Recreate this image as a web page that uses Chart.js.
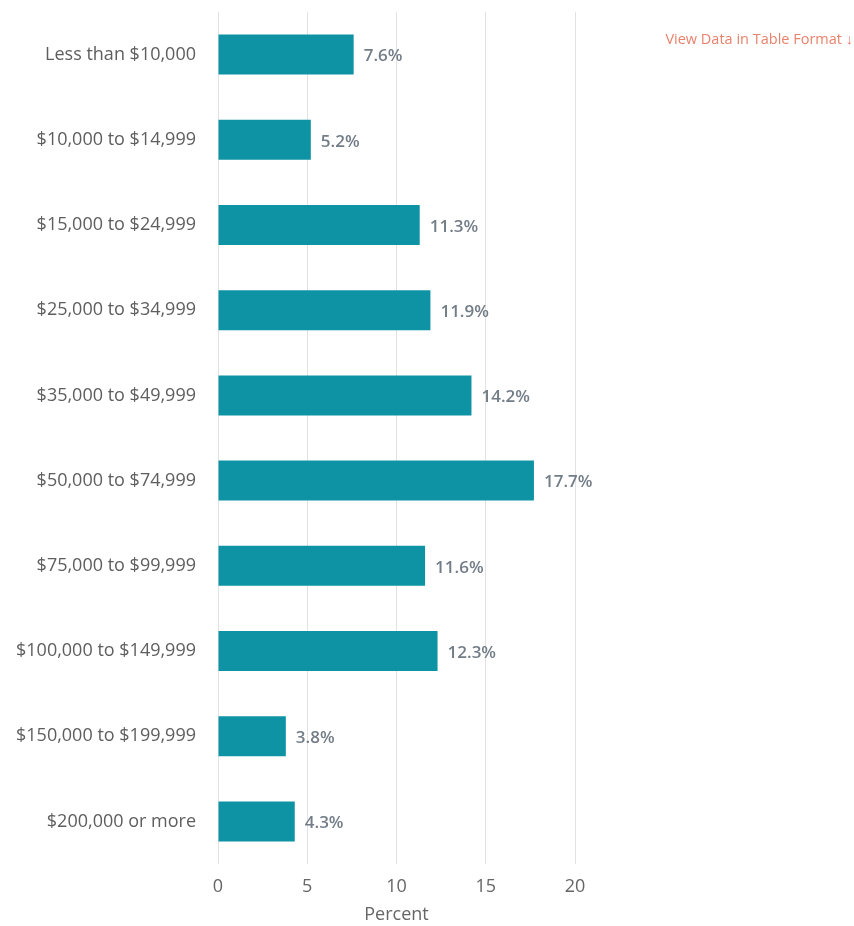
<!DOCTYPE html>
<html>
<head>
<meta charset="utf-8">
<title>Household Income</title>
<script src="https://cdn.jsdelivr.net/npm/chart.js@4.4.1/dist/chart.umd.min.js"></script>
<style>
  html, body { margin: 0; padding: 0; background: #fff; }
  #wrap { position: relative; width: 854px; height: 926px; }
  #incomeChart { display: block; }
  #tableLink {
    position: absolute; top: 29px; right: 1px;
    font: 14.5px "Open Sans", sans-serif; color: #e8826b;
    text-decoration: none;
  }
</style>
</head>
<body>
<div id="wrap">
  <canvas id="incomeChart" width="854" height="926"></canvas>
  <a id="tableLink" href="#">View Data in Table Format &#8595;</a>
</div>
<script>
// income brackets and share of households (percent)
const categories = [
  'Less than $10,000', '$10,000 to $14,999', '$15,000 to $24,999',
  '$25,000 to $34,999', '$35,000 to $49,999', '$50,000 to $74,999',
  '$75,000 to $99,999', '$100,000 to $149,999', '$150,000 to $199,999',
  '$200,000 or more'
];
const percents = [7.6, 5.2, 11.3, 11.9, 14.2, 17.7, 11.6, 12.3, 3.8, 4.3];
const xTicks = [0, 5, 10, 15, 20];

const FONT = '"Open Sans", sans-serif';

// value label drawn just right of each bar
const barLabels = {
  id: 'barLabels',
  afterDatasetsDraw(chart) {
    const c = chart.ctx;
    const meta = chart.getDatasetMeta(0);
    c.save();
    c.font = '600 17px ' + FONT;
    c.fillStyle = '#737d88';
    c.textAlign = 'left';
    c.textBaseline = 'middle';
    meta.data.forEach((bar, i) => {
      c.fillText(percents[i].toFixed(1) + '%', bar.x + 10, bar.y + 2);
    });
    c.restore();
  }
};

const ctx = document.getElementById('incomeChart').getContext('2d');
new Chart(ctx, {
  type: 'bar',
  data: {
    labels: categories,
    datasets: [{
      data: percents,
      backgroundColor: '#0e93a5',
      barPercentage: 0.47,
      categoryPercentage: 1
    }]
  },
  options: {
    indexAxis: 'y',
    responsive: false,
    animation: false,
    layout: { padding: { top: 12, right: 279, bottom: 0, left: 0 } },
    plugins: { legend: { display: false }, tooltip: { enabled: false } },
    scales: {
      x: {
        min: 0, max: 20,
        afterBuildTicks(axis) { axis.ticks = xTicks.map(v => ({ value: v })); },
        border: { display: false },
        grid: { color: '#e2e2e2', drawTicks: false },
        ticks: { color: '#666', padding: 12, font: { family: FONT, size: 18 } },
        title: { display: true, text: 'Percent', color: '#666', padding: { top: 8, bottom: 0 },
                 font: { family: FONT, size: 18 } },
        // tick row plus axis title underneath
        afterFit(axis) { axis.height = 62; }
      },
      y: {
        border: { display: false },
        grid: { display: false, drawTicks: false },
        ticks: { color: '#5e5e5e', padding: 22, font: { family: FONT, size: 18 } },
        // labels are right-aligned against the plot; keep the plot edge fixed
        afterFit(axis) {
          axis.width = 218;
          axis.paddingTop = 0;
          axis.paddingBottom = 0;
        }
      }
    }
  },
  plugins: [barLabels]
});
</script>
</body>
</html>
